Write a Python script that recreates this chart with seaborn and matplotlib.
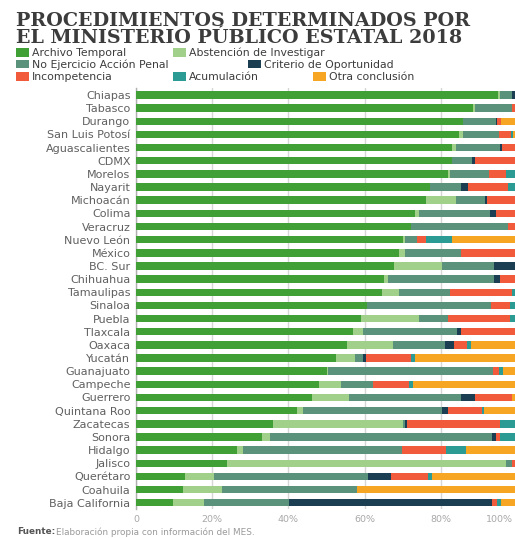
import numpy as np
import pandas as pd
import seaborn as sns
import matplotlib.pyplot as plt
from matplotlib.patches import Rectangle
from matplotlib.transforms import ScaledTranslation

states = ["Chiapas", "Tabasco", "Durango", "San Luis Potosí", "Aguascalientes",
          "CDMX", "Morelos", "Nayarit", "Michoacán", "Colima", "Veracruz",
          "Nuevo León", "México", "BC. Sur", "Chihuahua", "Tamaulipas",
          "Sinaloa", "Puebla", "Tlaxcala", "Oaxaca", "Yucatán", "Guanajuato",
          "Campeche", "Guerrero", "Quintana Roo", "Zacatecas", "Sonora",
          "Hidalgo", "Jalisco", "Querétaro", "Coahuila", "Baja California"]

archivo = [94.9, 88.5, 85.7, 84.7, 82.9, 82.9, 82.0, 77.2, 76.0, 73.3, 72.2,
           70.0, 68.9, 67.8, 65.1, 64.5, 60.7, 59.1, 56.9, 55.3, 52.5, 50.0,
           48.1, 46.2, 42.2, 35.9, 33.2, 26.4, 23.8, 12.9, 12.4, 9.6]
abstencion = [0.6, 0.6, 0.0, 1.0, 1.2, 0.0, 0.5, 0.0, 8.1, 1.0, 0.0, 0.6, 1.6,
              12.5, 1.1, 4.4, 0.0, 15.3, 2.8, 12.1, 5.1, 0.4, 5.6, 9.7, 1.6,
              34.1, 2.0, 1.7, 73.3, 7.7, 10.3, 8.2]
no_ejercicio = [3.3, 9.7, 8.7, 9.6, 11.5, 5.4, 10.2, 8.0, 7.6, 18.6, 25.5, 3.1,
                14.7, 13.7, 27.8, 13.6, 32.6, 7.6, 24.5, 13.6, 2.1, 43.3, 8.6,
                29.4, 36.6, 0.6, 58.2, 41.6, 1.5, 40.2, 35.4, 22.4]
criterio = [1.2, 0.0, 0.4, 0.0, 0.4, 0.6, 0.0, 2.0, 0.5, 1.5, 0.0, 0.0, 0.0,
            6.0, 1.5, 0.0, 0.0, 0.0, 1.0, 2.5, 0.6, 0.0, 0.0, 3.8, 1.6, 0.6,
            1.0, 0.0, 0.0, 6.1, 0.0, 53.3]
incompetencia = [0.0, 1.2, 1.0, 3.2, 4.0, 11.1, 4.5, 10.5, 7.8, 5.6, 2.3, 2.4,
                 14.8, 0.0, 4.5, 16.2, 4.8, 16.2, 14.8, 3.3, 11.9, 1.7, 9.4,
                 9.7, 8.7, 24.3, 1.1, 11.6, 1.4, 9.7, 0.0, 1.3]
acumulacion = [0.0, 0.0, 0.0, 0.5, 0.0, 0.0, 2.8, 2.3, 0.0, 0.0, 0.0, 6.9, 0.0,
               0.0, 0.0, 1.3, 1.9, 1.8, 0.0, 1.0, 1.0, 1.0, 1.1, 0.0, 0.6, 4.5,
               4.5, 5.4, 0.0, 1.0, 0.0, 1.1]
otra = [0.0, 0.0, 4.2, 1.0, 0.0, 0.0, 0.0, 0.0, 0.0, 0.0, 0.0, 17.0, 0.0, 0.0,
        0.0, 0.0, 0.0, 0.0, 0.0, 12.2, 26.8, 3.6, 27.2, 1.2, 8.7, 0.0, 0.0,
        13.3, 0.0, 22.4, 41.9, 4.1]

categories = ["Archivo Temporal", "Abstención de Investigar",
              "No Ejercicio Acción Penal", "Criterio de Oportunidad",
              "Incompetencia", "Acumulación", "Otra conclusión"]
series = [archivo, abstencion, no_ejercicio, criterio,
          incompetencia, acumulacion, otra]
colors = ["#40a035", "#a0d08a", "#5a927b", "#1c3e52",
          "#f15b3b", "#2b9b94", "#f6a623"]

tick_vals = [0, 20, 40, 60, 80, 100]
tick_labels = ["0", "20%", "40%", "60%", "80%", "100%"]

df = pd.DataFrame(dict(zip(categories, series)), index=states)
cum = df.cumsum(axis=1)

sns.set_style("white")
W, H = 515, 538
fig = plt.figure(figsize=(W / 100, H / 100), dpi=100)

# plot area (x from 0% to 100%, right end runs past the figure edge)
left, right = 136 / W, 517 / W
top, bottom = 1 - 88.4 / H, 1 - 509.3 / H
ax = fig.add_axes([left, bottom, right - left, top - bottom])

# stacked bars: draw cumulative totals from the last category to the first
for cat, col in reversed(list(zip(categories, colors))):
    sns.barplot(x=cum[cat].values, y=states, orient="h", color=col,
                width=0.57, linewidth=0, saturation=1, ax=ax, zorder=3)

ax.set_xlim(0, 100)
ax.set_ylim(len(states) - 0.5, -0.5)
ax.set_xticks(tick_vals)
ax.set_xticklabels(tick_labels, fontsize=6.8, color="#a8a8a8")
ax.tick_params(axis="x", length=0, pad=4)
ax.tick_params(axis="y", length=0, pad=4, labelsize=8.0, labelcolor="#606060")
# keep the last tick label inside the figure edge
last = ax.get_xticklabels()[-1]
last.set_horizontalalignment("right")
last.set_transform(last.get_transform()
                   + ScaledTranslation(-4 / 100, 0, fig.dpi_scale_trans))
ax.grid(axis="x", color="#d6d6d6", linewidth=1.0, zorder=0)
ax.set_axisbelow(True)
for s in ["top", "right", "bottom"]:
    ax.spines[s].set_visible(False)
ax.spines["left"].set_color("#b0b0b0")
ax.spines["left"].set_linewidth(1.0)
ax.set_xlabel("")
ax.set_ylabel("")

# title
title_kw = dict(fontsize=13.8, fontweight="bold", color="#3c3c3c",
                family="DejaVu Serif", va="baseline", ha="left")
fig.text(16 / W, 1 - 26 / H, "PROCEDIMIENTOS DETERMINADOS POR", **title_kw)
fig.text(16 / W, 1 - 43 / H, "EL MINISTERIO PÚBLICO ESTATAL 2018", **title_kw)

# legend rows
legend_pos = [(16, 52.5), (173, 52.5), (16, 64.5), (248, 64.5),
              (16, 76.5), (173, 76.5), (313, 76.5)]
for (px, py), cat, col in zip(legend_pos, categories, colors):
    fig.patches.append(Rectangle((px / W, 1 - (py + 4) / H), 13 / W, 8 / H,
                                 transform=fig.transFigure, color=col,
                                 linewidth=0))
    fig.text((px + 16) / W, 1 - py / H, cat, fontsize=7.8, color="#3c3c3c",
             va="center", ha="left")

# source note
fig.text(17 / W, 1 - 532 / H, "Fuente:", fontsize=6.4, fontweight="bold",
         color="#555555", va="center", ha="left")
fig.text(56 / W, 1 - 532 / H, "Elaboración propia con información del MES.",
         fontsize=6.4, color="#9a9a9a", va="center", ha="left")

fig.savefig("out.png", dpi=100)
